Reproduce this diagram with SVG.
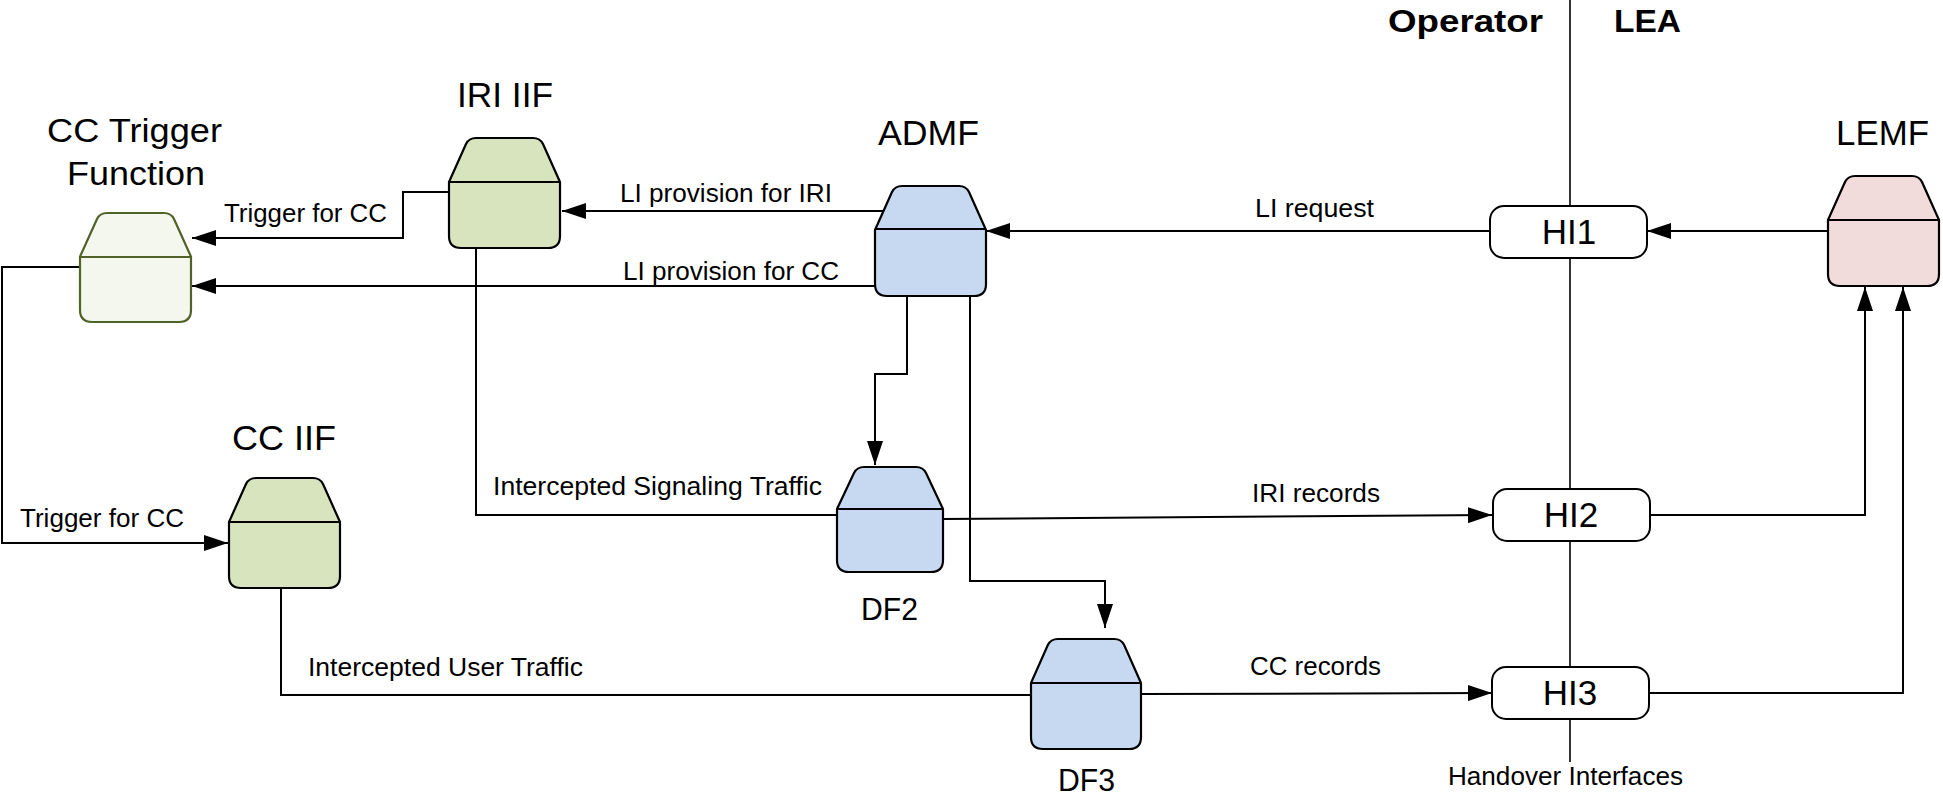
<svg xmlns="http://www.w3.org/2000/svg" width="1943" height="798" viewBox="0 0 1943 798">
<style>
.lbl{font-family:"Liberation Sans",Arial,sans-serif;fill:#000}
.s{font-size:26px}
.n{font-size:35px}
.b{font-size:31px;font-weight:bold}
.conn{fill:none;stroke:#000;stroke-width:2}
.shape{stroke:#000;stroke-width:2.2;stroke-linejoin:round}
.green{fill:#d7e4bd}
.blue{fill:#c6d9f1}
.pink{fill:#f2dcdb}
.light{fill:#f4f7ee;stroke:#4f6228}
.div{fill:none;stroke:#000;stroke-width:2.2}
.hi{fill:#fff;stroke:#000;stroke-width:2}
</style>
<defs>
<marker id="arr" markerUnits="userSpaceOnUse" markerWidth="24" markerHeight="16" refX="24" refY="8" orient="auto">
<path d="M0,0 L24,8 L0,16 Z" fill="#000"/>
</marker>
<path id="nodeShape" d="M0,44 L17,6 Q20,0 27,0 L84,0 Q91,0 94,6 L111,44 L111,98 Q111,110 99,110 L12,110 Q0,110 0,98 Z"/>
</defs>
<rect width="1943" height="798" fill="#fff"/>

<g id="boundary">
<line x1="1570" y1="0" x2="1570" y2="762" stroke="#000" stroke-width="1.6"/>
<text class="lbl b" x="1388" y="32" textLength="155" lengthAdjust="spacingAndGlyphs">Operator</text>
<text class="lbl b" x="1614" y="32" textLength="67" lengthAdjust="spacingAndGlyphs">LEA</text>
<text class="lbl" font-size="25" x="1448" y="785" textLength="235" lengthAdjust="spacingAndGlyphs">Handover Interfaces</text>
</g>

<g id="connectors">
<path class="conn" d="M1828,231 L1647,231" marker-end="url(#arr)"/>
<path class="conn" d="M1490,231 L986,231" marker-end="url(#arr)"/>
<path class="conn" d="M884,211 L562,211" marker-end="url(#arr)"/>
<path class="conn" d="M875,286 L192,286" marker-end="url(#arr)"/>
<path class="conn" d="M449,192 L403,192 L403,238 L192,238" marker-end="url(#arr)"/>
<path class="conn" d="M80,267 L2,267 L2,543 L228,543" marker-end="url(#arr)"/>
<path class="conn" d="M476,248 L476,515 L837,515"/>
<path class="conn" d="M281,588 L281,695 L1031,695"/>
<path class="conn" d="M907,296 L907,374 L875,374 L875,465" marker-end="url(#arr)"/>
<path class="conn" d="M970,296 L970,581 L1105,581 L1105,628" marker-end="url(#arr)"/>
<path class="conn" d="M943,519 L1492,515" marker-end="url(#arr)"/>
<path class="conn" d="M1141,694 L1492,693" marker-end="url(#arr)"/>
<path class="conn" d="M1650,515 L1865,515 L1865,287" marker-end="url(#arr)"/>
<path class="conn" d="M1649,693 L1903,693 L1903,287" marker-end="url(#arr)"/>
<text class="lbl s" x="224" y="222" textLength="163" lengthAdjust="spacingAndGlyphs">Trigger for CC</text>
<text class="lbl s" x="620" y="202" textLength="212" lengthAdjust="spacingAndGlyphs">LI provision for IRI</text>
<text class="lbl s" x="623" y="280" textLength="216" lengthAdjust="spacingAndGlyphs">LI provision for CC</text>
<text class="lbl s" x="1255" y="217" textLength="119" lengthAdjust="spacingAndGlyphs">LI request</text>
<text class="lbl s" x="20" y="527" textLength="164" lengthAdjust="spacingAndGlyphs">Trigger for CC</text>
<text class="lbl s" x="493" y="495" textLength="329" lengthAdjust="spacingAndGlyphs">Intercepted Signaling Traffic</text>
<text class="lbl s" x="308" y="676" textLength="275" lengthAdjust="spacingAndGlyphs">Intercepted User Traffic</text>
<text class="lbl s" x="1252" y="502" textLength="128" lengthAdjust="spacingAndGlyphs">IRI records</text>
<text class="lbl s" x="1250" y="675" textLength="131" lengthAdjust="spacingAndGlyphs">CC records</text>
</g>

<g id="cc-trigger">
<use href="#nodeShape" class="shape light" transform="translate(80,213) scale(1,0.991)"/>
<path d="M80,257 H191" fill="none" stroke="#4f6228" stroke-width="2.2"/>
<text class="lbl" font-size="33" x="47" y="142" textLength="175" lengthAdjust="spacingAndGlyphs">CC Trigger</text>
<text class="lbl" font-size="33" x="67" y="185" textLength="138" lengthAdjust="spacingAndGlyphs">Function</text>
</g>

<g id="iri-iif">
<use href="#nodeShape" class="shape green" transform="translate(449,138)"/>
<path class="div" d="M449,182 H560"/>
<text class="lbl n" x="457" y="107" textLength="96" lengthAdjust="spacingAndGlyphs">IRI IIF</text>
</g>

<g id="admf">
<use href="#nodeShape" class="shape blue" transform="translate(875,186)"/>
<path class="div" d="M875,229 H986"/>
<text class="lbl" font-size="35" x="878" y="145" textLength="101" lengthAdjust="spacingAndGlyphs">ADMF</text>
</g>

<g id="cc-iif">
<use href="#nodeShape" class="shape green" transform="translate(229,478)"/>
<path class="div" d="M229,522 H340"/>
<text class="lbl n" x="232" y="450" textLength="104" lengthAdjust="spacingAndGlyphs">CC IIF</text>
</g>

<g id="df2">
<path class="shape blue" d="M837,509 L854,473 Q857,467 864,467 L916,467 Q923,467 926,473 L943,509 L943,560 Q943,572 931,572 L849,572 Q837,572 837,560 Z"/>
<path class="div" d="M837,509 H943"/>
<text class="lbl" font-size="32" x="861" y="620" textLength="57" lengthAdjust="spacingAndGlyphs">DF2</text>
</g>

<g id="df3">
<use href="#nodeShape" class="shape blue" transform="translate(1031,639) scale(0.991,1)"/>
<path class="div" d="M1031,683 H1141"/>
<text class="lbl" font-size="32" x="1058" y="791" textLength="57" lengthAdjust="spacingAndGlyphs">DF3</text>
</g>

<g id="lemf">
<use href="#nodeShape" class="shape pink" transform="translate(1828,176)"/>
<path class="div" d="M1828,220 H1939"/>
<text class="lbl n" x="1836" y="145" textLength="93" lengthAdjust="spacingAndGlyphs">LEMF</text>
</g>

<g id="hi1">
<rect class="hi" x="1490" y="206" width="157" height="52" rx="14"/>
<text class="lbl n" x="1569" y="244" text-anchor="middle">HI1</text>
</g>
<g id="hi2">
<rect class="hi" x="1493" y="489" width="157" height="52" rx="14"/>
<text class="lbl n" x="1571" y="527" text-anchor="middle">HI2</text>
</g>
<g id="hi3">
<rect class="hi" x="1492" y="667" width="157" height="52" rx="14"/>
<text class="lbl n" x="1570" y="705" text-anchor="middle">HI3</text>
</g>
</svg>
